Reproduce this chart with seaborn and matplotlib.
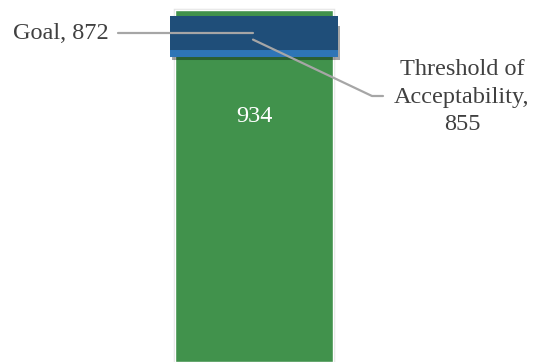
import matplotlib
matplotlib.use("Agg")
import matplotlib.pyplot as plt
import matplotlib.patheffects as pe
import seaborn as sns
import pandas as pd

# data
categories = [""]
actual_values = [934]
goal_value = 872
threshold_value = 855
goal_label = "Goal, 872"
threshold_label = "Threshold of\nAcceptability,\n855"

sns.set_theme(style="white")
plt.rcParams["font.family"] = ["Liberation Serif", "DejaVu Serif"]

fig = plt.figure(figsize=(5.33, 3.62), dpi=100)
ax = fig.add_axes([0, 0, 1, 1])

df = pd.DataFrame({"cat": categories, "val": actual_values})
sns.barplot(data=df, x="cat", y="val", color="#41924C", saturation=1,
            width=0.6, ax=ax, errorbar=None)
for p in ax.patches:
    p.set_path_effects([pe.Stroke(linewidth=2.5, foreground="#e4e4e4"), pe.Normal()])

xl, xr = -0.9646, 1.06
ax.set_xlim(xl, xr)
ax.set_ylim(0, 960)
ax.axis("off")

# threshold marker (behind) then goal marker
shadow = [pe.SimpleLineShadow(offset=(1.2, -2.2), alpha=0.35, shadow_color="black"), pe.Normal()]
ax.plot([0], [threshold_value], marker="_", ms=121, mew=24.5, color="#2E75B6",
        path_effects=shadow, zorder=3)
ax.plot([0], [goal_value], marker="_", ms=121, mew=24.5, color="#1F4E79",
        zorder=4)

def px2x(px):
    return xl + px / 533 * (xr - xl)

def py2y(py):
    return (362 - py) * 960 / 362

lead = "#A6A6A6"
# goal leader
ax.plot([px2x(118), px2x(253)], [goal_value, goal_value], color=lead, lw=1.6, zorder=5)
ax.text(px2x(109), goal_value, goal_label, ha="right", va="center",
        fontsize=17.5, color="#404040")
# threshold leader
ax.plot([px2x(253), px2x(372), px2x(383)],
        [threshold_value, py2y(96), py2y(96)], color=lead, lw=1.6, zorder=5)
ax.text(px2x(462), py2y(97), threshold_label, ha="center", va="center",
        multialignment="center", fontsize=17.5, color="#404040", linespacing=1.4)

# value label
ax.text(0, py2y(116), str(actual_values[0]), ha="center", va="center",
        fontsize=17.5, color="white")

fig.savefig("out.png", dpi=100)
